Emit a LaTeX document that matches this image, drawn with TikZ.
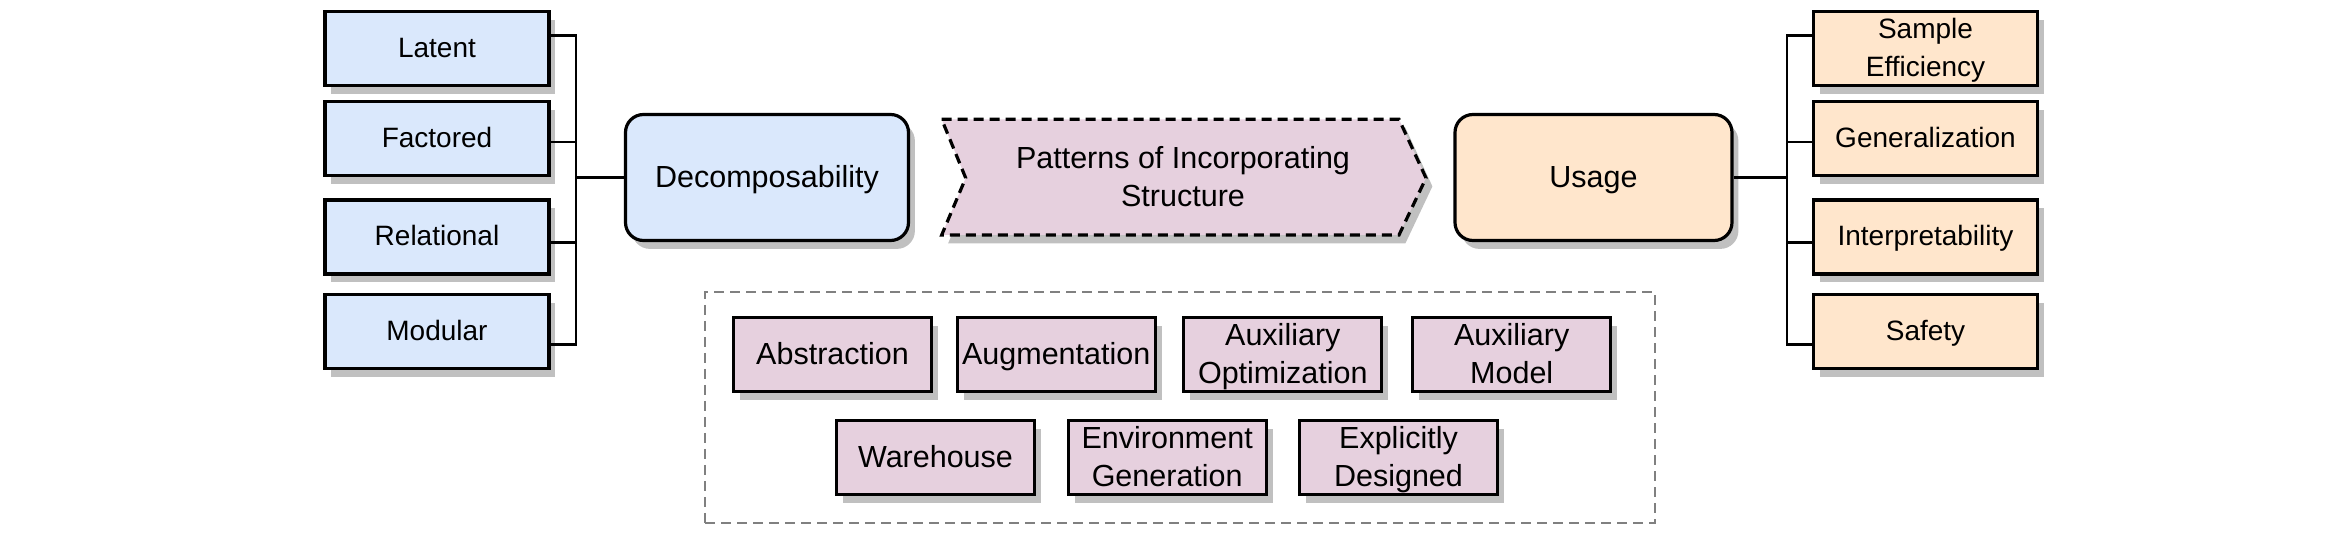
\documentclass[tikz,border=0pt]{standalone}
\usepackage{fontspec}
\setmainfont{Liberation Sans}
\usetikzlibrary{calc,shadows}
\definecolor{bluefill}{HTML}{DAE8FC}
\definecolor{orangefill}{HTML}{FFE6CC}
\definecolor{pinkfill}{HTML}{E6D0DE}
\definecolor{shadowgray}{HTML}{C0C0C0}
\definecolor{framegray}{HTML}{808080}
\newcommand{\txtstrut}{\rule[-0.25em]{0pt}{1.14em}}
\newcommand{\twolines}[2]{\txtstrut#1\\#2\txtstrut}
\tikzset{
  shad/.style={drop shadow={shadow xshift=3.2pt, shadow yshift=-4.2pt, opacity=1, fill=shadowgray}},
  txt/.style={align=center},
  sidebox/.style={draw, line width=1.6pt, shad, minimum width=112pt, minimum height=37pt,
    inner sep=0pt, txt, font=\fontsize{14}{19}\selectfont},
  leftbox/.style={sidebox, fill=bluefill},
  rightbox/.style={sidebox, fill=orangefill},
  mainbox/.style={draw, line width=1.6pt, shad, rounded corners=9pt, minimum height=63pt,
    inner sep=0pt, txt, font=\fontsize{15.25}{19}\selectfont},
  patbox/.style={draw, line width=1.6pt, shad, fill=pinkfill, minimum width=99pt,
    minimum height=37pt, inner sep=0pt, txt, font=\fontsize{15.25}{19}\selectfont},
  conn/.style={line width=1.2pt},
  arrowshape/.style={draw, line width=1.6pt, dash pattern=on 5pt off 3pt, fill=pinkfill, shad},
  groupframe/.style={draw=framegray, line width=1pt, dash pattern=on 5pt off 3pt, inner sep=0pt},
}
\begin{document}
\begin{tikzpicture}[x=0.5pt,y=-0.5pt]
\useasboundingbox (0,0) rectangle (2342,534);

% left side
\node[leftbox] (lat) at (437,48.5) {\txtstrut Latent};
\node[leftbox] (fac) at (437,138.5) {\txtstrut Factored};
\node[leftbox] (rel) at (437,237) {\txtstrut Relational};
\node[leftbox] (mod) at (437,331.7) {\txtstrut Modular};
\node[mainbox, fill=bluefill, minimum width=141.5pt] (dec) at (767,177.5) {\txtstrut Decomposability};
\coordinate (lj) at (575.7,177.7);

% right side
\node[mainbox, fill=orangefill, minimum width=138.5pt] (use) at (1593.5,177.5) {\txtstrut Usage};
\node[rightbox] (se) at (1925.5,48.5) {\twolines{Sample}{Efficiency}};
\node[rightbox] (gen) at (1925.5,138.5) {\txtstrut Generalization};
\node[rightbox] (int) at (1925.5,237) {\txtstrut Interpretability};
\node[rightbox] (saf) at (1925.5,331.7) {\txtstrut Safety};
\coordinate (rj) at (1786.7,177.7);

% connectors
\draw[conn] ($(lat.north east)!0.331!(lat.south east)$) -| (lj);
\draw[conn] ($(fac.north east)!0.543!(fac.south east)$) -| (lj);
\draw[conn] ($(rel.north east)!0.572!(rel.south east)$) -| (lj);
\draw[conn] ($(mod.north east)!0.666!(mod.south east)$) -| (lj);
\draw[conn] (dec.west) -- (dec.west -| lj);

\draw[conn] ($(se.north west)!0.331!(se.south west)$) -| (rj);
\draw[conn] ($(gen.north west)!0.543!(gen.south west)$) -| (rj);
\draw[conn] ($(int.north west)!0.572!(int.south west)$) -| (rj);
\draw[conn] ($(saf.north west)!0.666!(saf.south west)$) -| (rj);
\draw[conn] (use.east) -- (use.east -| rj);

% central arrow
\path[arrowshape] (941.7,119.3) -- (1399,119.3) -- (1426,178) -- (1399,235)
  -- (941.7,235) -- (965.7,178) -- cycle;
\node[txt, inner sep=0pt, font=\fontsize{15.25}{19}\selectfont] (pat) at (1183,178)
  {\twolines{Patterns of Incorporating}{Structure}};

% group of patterns
\node[groupframe, minimum width=474.8pt, minimum height=115.7pt] (grp) at (1179.9,407.3) {};
\node[patbox] (abs) at (832.5,354.7) {\txtstrut Abstraction};
\node[patbox] (aug) at (1056.2,354.7) {\txtstrut Augmentation};
\node[patbox] (auo) at (1282.8,354.7) {\twolines{Auxiliary}{Optimization}};
\node[patbox] (aum) at (1511.7,354.7) {\twolines{Auxiliary}{Model}};
\node[patbox] (war) at (935.5,457.8) {\txtstrut Warehouse};
\node[patbox] (env) at (1167.2,457.8) {\twolines{Environment}{Generation}};
\node[patbox] (exd) at (1398.5,457.8) {\twolines{Explicitly}{Designed}};
\end{tikzpicture}
\end{document}
